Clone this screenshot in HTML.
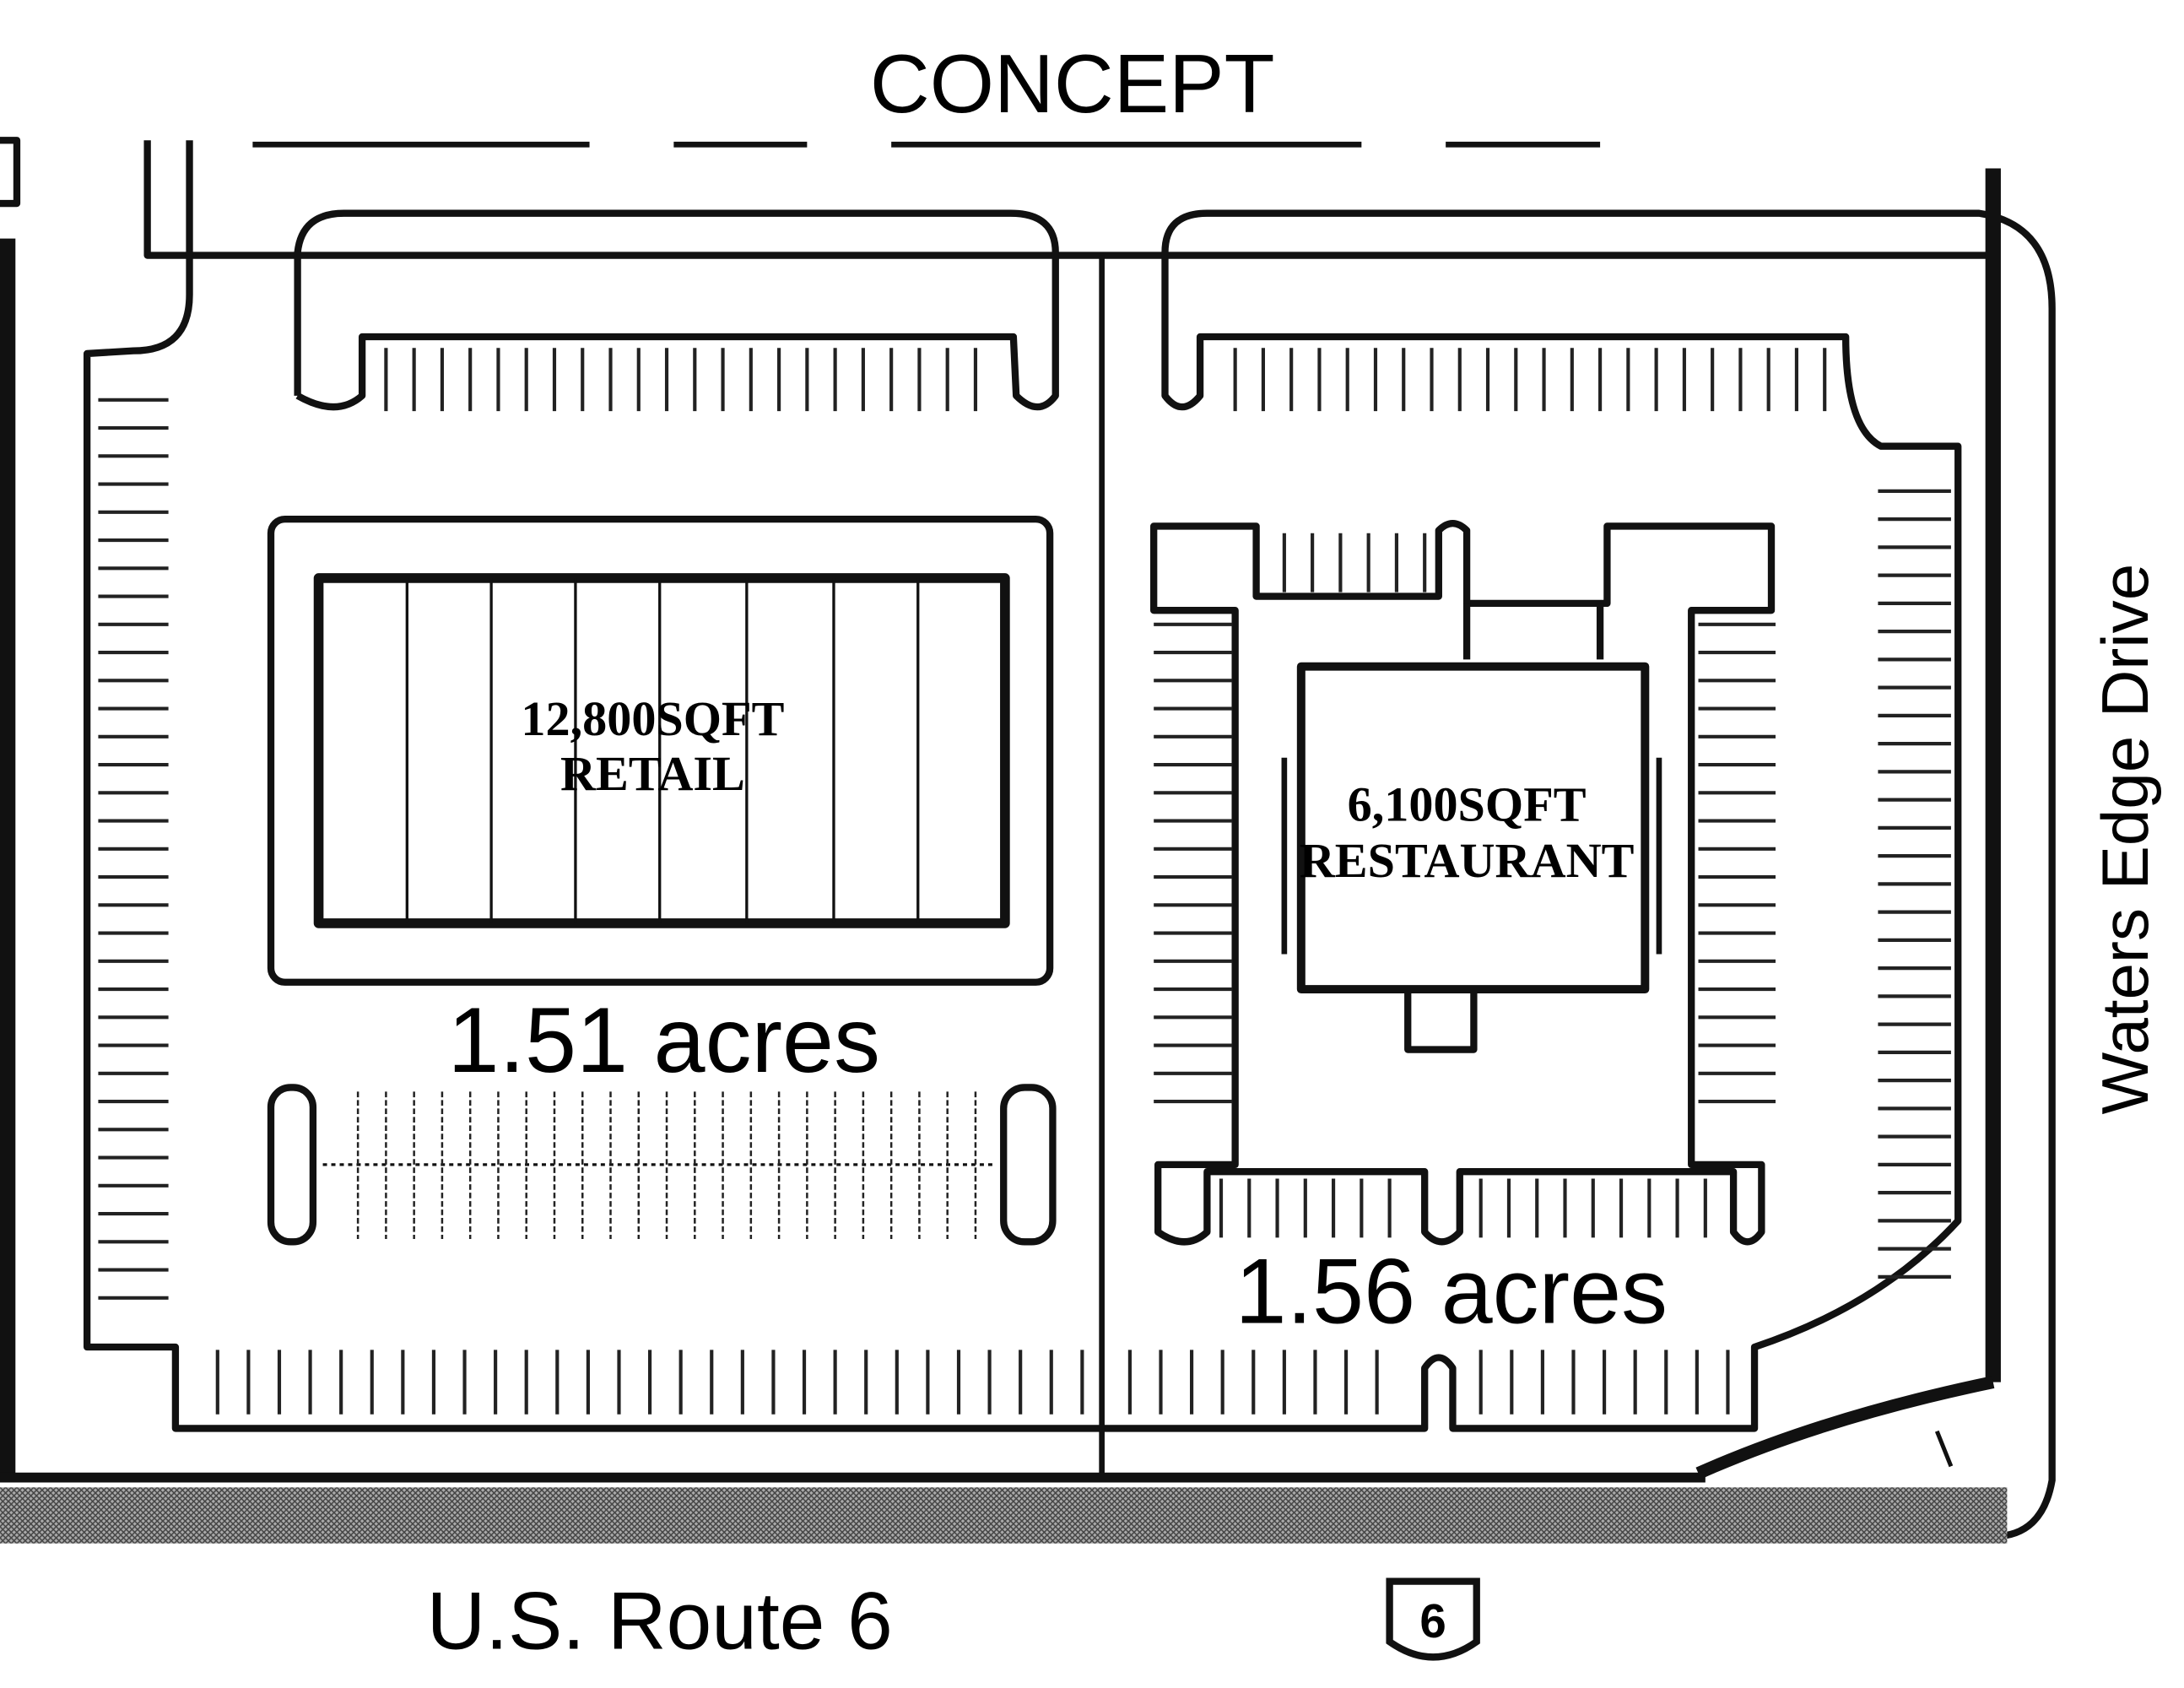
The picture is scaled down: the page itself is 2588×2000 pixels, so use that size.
<!DOCTYPE html>
<html><head><meta charset="utf-8"><style>
html,body{margin:0;padding:0;background:#fff;}
svg{display:block;}
</style></head><body>
<svg width="2588" height="2000" viewBox="0 0 1556 1203" preserveAspectRatio="none" xmlns="http://www.w3.org/2000/svg">
<defs>
<pattern id="hatch" width="4" height="4" patternUnits="userSpaceOnUse">
<rect width="4" height="4" fill="#aaa"/><path d="M0,0 L4,4 M4,0 L0,4" stroke="#444" stroke-width="0.9"/>
</pattern>
</defs>
<rect width="1556" height="1203" fill="#fff"/>
<text x="764" y="80" font-family="Liberation Sans, sans-serif" font-size="59" text-anchor="middle">CONCEPT</text>
<g stroke="#111" stroke-width="4">
<line x1="180" y1="103" x2="420" y2="103"/><line x1="480" y1="103" x2="575" y2="103"/>
<line x1="635" y1="103" x2="970" y2="103"/><line x1="1030" y1="103" x2="1140" y2="103"/>
</g>
<g fill="none" stroke="#111" stroke-width="5" stroke-linejoin="round">
<line x1="5" y1="170" x2="5" y2="1055" stroke-width="12"/>
<path d="M0,100 L12,100 L12,145 L0,145"/>
<path d="M105,100 L105,182 L1420,182"/>
<path d="M135,100 L135,210 Q135,250 95,250 L62,252 L62,960 L125,960 L125,1018 L1015,1018 L1015,975 Q1025,960 1035,975 L1035,1018 L1250,1018 L1250,960 Q1340,930 1395,870 L1395,318 L1340,318 Q1315,305 1315,240 L855,240 L855,282 Q842,298 830,282 L830,180 Q830,152 860,152 L1410,152 Q1462,160 1462,220 L1462,1055 Q1455,1095 1420,1095"/>
<path d="M212,282 L212,180 Q215,152 245,152 L720,152 Q752,152 752,180 L752,282 Q740,298 724,282 L722,240 L258,240 L258,282 Q240,298 212,282"/>
<line x1="785" y1="182" x2="785" y2="1053" stroke-width="4"/>
<line x1="1420" y1="120" x2="1420" y2="985" stroke-width="11"/>
<path d="M1420,985 Q1300,1010 1210,1050" stroke-width="9"/>
<line x1="0" y1="1053" x2="1215" y2="1053" stroke-width="7"/>
<line x1="1380" y1="1020" x2="1390" y2="1045" stroke-width="3"/>
<rect x="193" y="370" width="555" height="330" rx="10" stroke-width="5"/>
<rect x="227" y="412" width="489" height="246" stroke-width="7"/>
<rect x="193" y="775" width="30" height="110" rx="14"/>
<rect x="715" y="775" width="35" height="110" rx="15"/>
<path d="M822,375 H895 V425 H1025 V378 Q1035,368 1045,378 V430 H1145 V375 H1262 V435 H1205 V830 H1255 V878 Q1245,892 1235,878 V835 H1040 V878 Q1027,892 1015,878 V835 H860 V878 Q845,892 825,878 V830 H880 V435 H822 Z"/>
<rect x="927" y="475" width="245" height="230" stroke-width="6"/>
<path d="M1045,430 V470 M1140,430 V470"/>
<path d="M1003,708 V748 H1050 V708"/>
<path d="M915,540 V680 M1182,540 V680" stroke-width="4"/>
</g>
<rect x="0" y="1060" width="1430" height="40" fill="url(#hatch)"/>
<g stroke="#111" stroke-width="2">
<line x1="290" y1="412" x2="290" y2="658"/><line x1="350" y1="412" x2="350" y2="658"/>
<line x1="410" y1="412" x2="410" y2="658"/><line x1="470" y1="412" x2="470" y2="658"/>
<line x1="532" y1="412" x2="532" y2="658"/><line x1="594" y1="412" x2="594" y2="658"/>
<line x1="654" y1="412" x2="654" y2="658"/>
<line x1="230" y1="830" x2="710" y2="830" stroke-dasharray="3,3"/>
</g>
<g stroke="#222" stroke-width="2.5">
<path d="M275,248 v45 M295,248 v45 M315,248 v45 M335,248 v45 M355,248 v45 M375,248 v45 M395,248 v45 M415,248 v45 M435,248 v45 M455,248 v45 M475,248 v45 M495,248 v45 M515,248 v45 M535,248 v45 M555,248 v45 M575,248 v45 M595,248 v45 M615,248 v45 M635,248 v45 M655,248 v45 M675,248 v45 M695,248 v45"/>
<path d="M880,248 v45 M900,248 v45 M920,248 v45 M940,248 v45 M960,248 v45 M980,248 v45 M1000,248 v45 M1020,248 v45 M1040,248 v45 M1060,248 v45 M1080,248 v45 M1100,248 v45 M1120,248 v45 M1140,248 v45 M1160,248 v45 M1180,248 v45 M1200,248 v45 M1220,248 v45 M1240,248 v45 M1260,248 v45 M1280,248 v45 M1300,248 v45"/>
<path d="M70,285 h50 M70,305 h50 M70,325 h50 M70,345 h50 M70,365 h50 M70,385 h50 M70,405 h50 M70,425 h50 M70,445 h50 M70,465 h50 M70,485 h50 M70,505 h50 M70,525 h50 M70,545 h50 M70,565 h50 M70,585 h50 M70,605 h50 M70,625 h50 M70,645 h50 M70,665 h50 M70,685 h50 M70,705 h50 M70,725 h50 M70,745 h50 M70,765 h50 M70,785 h50 M70,805 h50 M70,825 h50 M70,845 h50 M70,865 h50 M70,885 h50 M70,905 h50 M70,925 h50"/>
<path d="M1338,350 h52 M1338,370 h52 M1338,390 h52 M1338,410 h52 M1338,430 h52 M1338,450 h52 M1338,470 h52 M1338,490 h52 M1338,510 h52 M1338,530 h52 M1338,550 h52 M1338,570 h52 M1338,590 h52 M1338,610 h52 M1338,630 h52 M1338,650 h52 M1338,670 h52 M1338,690 h52 M1338,710 h52 M1338,730 h52 M1338,750 h52 M1338,770 h52 M1338,790 h52 M1338,810 h52 M1338,830 h52 M1338,850 h52 M1338,870 h52 M1338,890 h52 M1338,910 h52"/>
<path d="M155,962 v46 M177,962 v46 M199,962 v46 M221,962 v46 M243,962 v46 M265,962 v46 M287,962 v46 M309,962 v46 M331,962 v46 M353,962 v46 M375,962 v46 M397,962 v46 M419,962 v46 M441,962 v46 M463,962 v46 M485,962 v46 M507,962 v46 M529,962 v46 M551,962 v46 M573,962 v46 M595,962 v46 M617,962 v46 M639,962 v46 M661,962 v46 M683,962 v46 M705,962 v46 M727,962 v46 M749,962 v46 M771,962 v46 M805,962 v46 M827,962 v46 M849,962 v46 M871,962 v46 M893,962 v46 M915,962 v46 M937,962 v46 M959,962 v46 M981,962 v46 M1055,962 v46 M1077,962 v46 M1099,962 v46 M1121,962 v46 M1143,962 v46 M1165,962 v46 M1187,962 v46 M1209,962 v46 M1231,962 v46"/>
<path d="M822,445 h56 M822,465 h56 M822,485 h56 M822,505 h56 M822,525 h56 M822,545 h56 M822,565 h56 M822,585 h56 M822,605 h56 M822,625 h56 M822,645 h56 M822,665 h56 M822,685 h56 M822,705 h56 M822,725 h56 M822,745 h56 M822,765 h56 M822,785 h56"/>
<path d="M1210,445 h55 M1210,465 h55 M1210,485 h55 M1210,505 h55 M1210,525 h55 M1210,545 h55 M1210,565 h55 M1210,585 h55 M1210,605 h55 M1210,625 h55 M1210,645 h55 M1210,665 h55 M1210,685 h55 M1210,705 h55 M1210,725 h55 M1210,745 h55 M1210,765 h55 M1210,785 h55"/>
<path d="M915,380 v42 M935,380 v42 M955,380 v42 M975,380 v42 M995,380 v42 M1015,380 v42"/>
<path d="M870,840 v42 M890,840 v42 M910,840 v42 M930,840 v42 M950,840 v42 M970,840 v42 M990,840 v42 M1055,840 v42 M1075,840 v42 M1095,840 v42 M1115,840 v42 M1135,840 v42 M1155,840 v42 M1175,840 v42 M1195,840 v42 M1215,840 v42"/>
<path d="M255,778 v105 M275,778 v105 M295,778 v105 M315,778 v105 M335,778 v105 M355,778 v105 M375,778 v105 M395,778 v105 M415,778 v105 M435,778 v105 M455,778 v105 M475,778 v105 M495,778 v105 M515,778 v105 M535,778 v105 M555,778 v105 M575,778 v105 M595,778 v105 M615,778 v105 M635,778 v105 M655,778 v105 M675,778 v105 M695,778 v105" stroke-width="1.5" stroke-dasharray="4,2"/>
</g>
<g font-family="Liberation Serif, serif" font-weight="bold" text-anchor="middle">
<text x="465" y="524" font-size="35">12,800SQFT</text>
<text x="465" y="563" font-size="35">RETAIL</text>
<text x="1045" y="585" font-size="35">6,100SQFT</text>
<text x="1045" y="625" font-size="35">RESTAURANT</text>
</g>
<g font-family="Liberation Sans, sans-serif">
<text x="473" y="764" font-size="66" text-anchor="middle">1.51 acres</text>
<text x="1034" y="943" font-size="66" text-anchor="middle">1.56 acres</text>
<text x="470" y="1175" font-size="58" text-anchor="middle">U.S. Route 6</text>
<text transform="translate(1530,598) rotate(-90)" font-size="47" text-anchor="middle">Waters Edge Drive</text>
</g>
<path d="M990,1127 H1052 V1170 Q1021,1192 990,1170 Z" fill="#fff" stroke="#111" stroke-width="5"/>
<text x="1021" y="1167" font-family="Liberation Sans, sans-serif" font-weight="bold" font-size="34" text-anchor="middle">6</text>
</svg>
</body></html>
